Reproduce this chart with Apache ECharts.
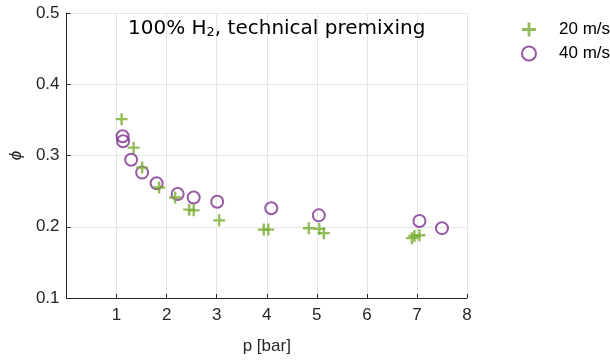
<!DOCTYPE html>
<html>
<head>
<meta charset="utf-8">
<script src="https://cdn.jsdelivr.net/npm/echarts@6/dist/echarts.min.js"></script>
<style>html,body{margin:0;padding:0;background:#fff}#c{width:610px;height:360px}</style>
</head>
<body>
<div id="c"></div>
<script>
// 20 m/s
const p20   = [1.10, 1.34, 1.51, 1.85, 2.17, 2.45, 2.54, 3.05, 3.94, 4.03, 4.84, 5.05, 5.14, 6.90, 6.95, 7.05];
const phi20 = [0.351, 0.311, 0.283, 0.255, 0.241, 0.224, 0.223, 0.209, 0.196, 0.196, 0.198, 0.197, 0.191, 0.184, 0.187, 0.188];
// 40 m/s
const p40   = [1.12, 1.13, 1.29, 1.51, 1.80, 2.22, 2.54, 3.01, 4.09, 5.04, 7.05, 7.50];
const phi40 = [0.327, 0.320, 0.294, 0.276, 0.261, 0.246, 0.241, 0.235, 0.226, 0.216, 0.208, 0.198];
const seriesNames = ['20 m/s', '40 m/s'];
const xTicks = [1, 2, 3, 4, 5, 6, 7, 8];
const yTicks = [0.1, 0.2, 0.3, 0.4, 0.5];

const green = '#77AC30', purple = '#7E2F8E', axisCol = '#262626';
const plus = 'path://M4,0H6V4H10V6H6V10H4V6H0V4H4Z';
const chart = echarts.init(document.getElementById('c'));
chart.setOption({
  animation: false,
  textStyle: {fontFamily: 'Liberation Sans'},
  title: {
    text: '100% H{sub|2}, technical premixing',
    left: 128, top: 18, padding: 0,
    textStyle: {
      fontFamily: 'DejaVu Sans', fontSize: 20, fontWeight: 'normal', color: '#000',
      rich: {sub: {fontFamily: 'DejaVu Sans', fontSize: 13, verticalAlign: 'bottom', padding: [8, 0, 0, 0], color: '#000'}}
    }
  },
  legend: {
    orient: 'vertical', left: 521, top: 21, padding: 0,
    itemWidth: 14, itemHeight: 14, itemGap: 7,
    data: seriesNames,
    textStyle: {fontSize: 17, color: '#000', padding: [0, 0, 0, 18], lineHeight: 14}
  },
  grid: {left: 64, right: 143, top: 13, bottom: 61},
  xAxis: {
    type: 'value', min: 0, max: 8, interval: 1,
    name: 'p [bar]', nameLocation: 'middle', nameGap: 40,
    nameTextStyle: {fontSize: 17, color: axisCol},
    axisLine: {lineStyle: {color: axisCol, width: 1}},
    axisTick: {inside: true, length: 4, lineStyle: {color: axisCol}},
    axisLabel: {fontSize: 17, color: axisCol, margin: 9,
      formatter: v => xTicks.includes(v) ? String(v) : ''},
    splitLine: {show: true, lineStyle: {color: '#e6e6e6', width: 1}}
  },
  yAxis: {
    type: 'value', min: 0.1, max: 0.5, interval: 0.1,
    name: 'ϕ', nameLocation: 'middle', nameGap: 37, nameRotate: 90,
    nameTextStyle: {fontSize: 17, color: axisCol, fontStyle: 'italic'},
    axisLine: {show: true, lineStyle: {color: axisCol, width: 1}},
    axisTick: {show: true, inside: true, length: 4, lineStyle: {color: axisCol}},
    axisLabel: {fontSize: 17, color: axisCol, margin: 7,
      formatter: v => { const t = yTicks.find(y => Math.abs(y - v) < 1e-9); return t !== undefined ? t.toFixed(1) : ''; }},
    splitLine: {show: true, lineStyle: {color: '#e6e6e6', width: 1}}
  },
  series: [
    {
      name: seriesNames[0], type: 'scatter', symbol: plus, symbolSize: 12,
      itemStyle: {color: green},
      data: p20.map((x, i) => [x, phi20[i]]), z: 3
    },
    {
      name: seriesNames[1], type: 'scatter', symbol: 'circle', symbolSize: 12,
      itemStyle: {color: 'rgba(0,0,0,0)', borderColor: purple, borderWidth: 2},
      data: p40.map((x, i) => [x, phi40[i]]), z: 2
    }
  ]
});
</script>
</body>
</html>
